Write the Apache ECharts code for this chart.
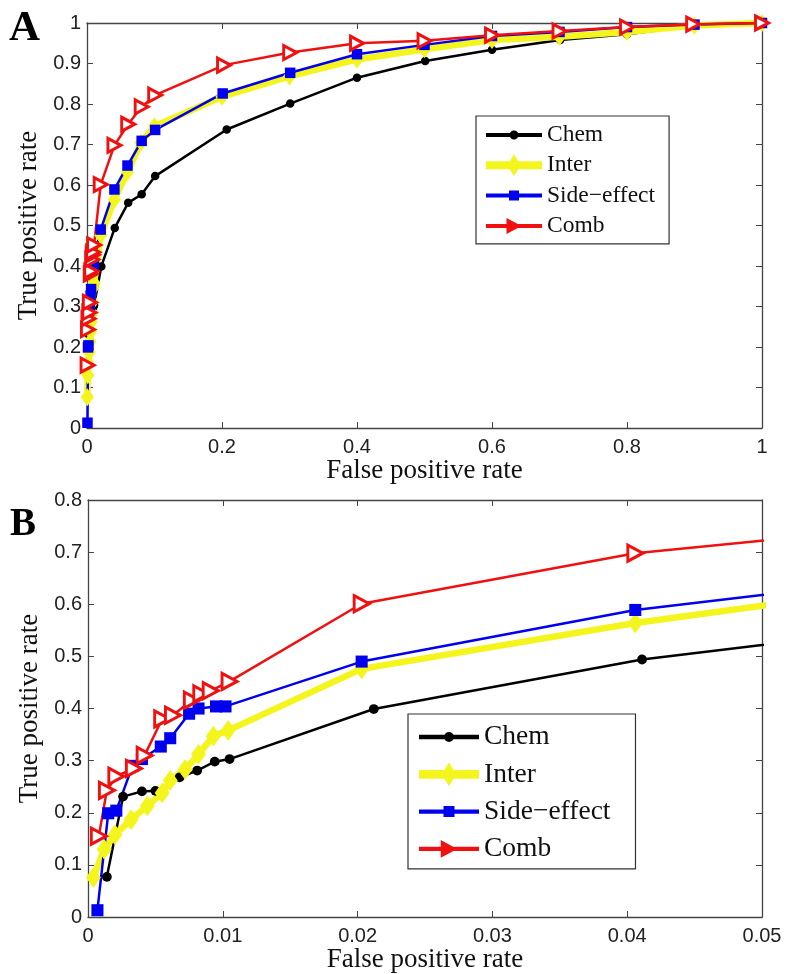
<!DOCTYPE html>
<html>
<head>
<meta charset="utf-8">
<script src="https://cdn.jsdelivr.net/npm/echarts@6/dist/echarts.min.js"></script>
<style>
html,body{margin:0;padding:0;background:#fff;}
#main{width:791px;height:974px;}
</style>
</head>
<body>
<div id="main"></div>
<script>
// [fpr, tpr] points (panel B is a zoom of the same curves)
var chemData = [[0.0014,0.077],[0.0026,0.231],[0.004,0.241],[0.005,0.242],[0.0068,0.268],[0.0081,0.281],[0.0094,0.298],[0.0105,0.303],[0.0212,0.399],[0.0411,0.494],[0.061,0.556],[0.081,0.577],[0.101,0.622],[0.207,0.737],[0.301,0.801],[0.4,0.865],[0.501,0.906],[0.6,0.934],[0.701,0.958],[0.8,0.972],[0.898,0.993],[1,1]];
var interData = [[0.0004,0.076],[0.0012,0.13],[0.002,0.158],[0.0032,0.187],[0.0044,0.213],[0.0055,0.238],[0.0061,0.262],[0.0072,0.283],[0.0082,0.312],[0.0093,0.347],[0.0104,0.358],[0.0203,0.476],[0.0406,0.564],[0.06,0.632],[0.08,0.705],[0.1,0.745],[0.2,0.818],[0.3,0.868],[0.4,0.91],[0.5,0.935],[0.6,0.958],[0.7,0.966],[0.8,0.978],[0.9,0.994],[1,1]];
var sideData = [[0.0007,0.013],[0.0015,0.199],[0.0021,0.204],[0.0033,0.29],[0.004,0.303],[0.0054,0.327],[0.0061,0.343],[0.0075,0.39],[0.0082,0.40],[0.0095,0.404],[0.0102,0.404],[0.0203,0.49],[0.0406,0.589],[0.06,0.648],[0.081,0.709],[0.101,0.736],[0.201,0.826],[0.301,0.877],[0.4,0.923],[0.5,0.946],[0.6,0.968],[0.7,0.978],[0.8,0.99],[0.9,0.996],[1,1]];
var combData = [[0.0008,0.155],[0.0014,0.243],[0.0021,0.27],[0.0034,0.285],[0.0042,0.31],[0.0055,0.38],[0.0063,0.387],[0.0077,0.416],[0.0084,0.428],[0.0091,0.434],[0.0105,0.452],[0.0203,0.601],[0.0406,0.698],[0.061,0.75],[0.081,0.793],[0.101,0.822],[0.203,0.896],[0.301,0.927],[0.4,0.95],[0.5,0.956],[0.6,0.97],[0.7,0.98],[0.8,0.99],[0.898,0.997],[1,1]];
var names = ['Chem', 'Inter', 'Side\u2212effect', 'Comb'];

var triRight = 'path://M0,0L10,5L0,10Z';
var frameColor = '#444';
var colors = ['#000000', '#f5f51e', '#0000f0', '#f01010'];
var tickFont = {fontFamily: 'Liberation Sans', fontSize: 20, color: '#222'};
var titleFont = {fontFamily: 'Liberation Serif', fontSize: 27, color: '#111'};

function fmt(v) {
    return String(Math.round(v * 1000) / 1000);
}
function mainAxis(grid, pos, min, max, step, name, gap) {
    return {
        type: 'value', gridIndex: grid, position: pos, min: min, max: max, interval: step,
        name: name, nameLocation: 'middle', nameGap: gap, nameTextStyle: titleFont,
        axisLine: {show: true, onZero: false, lineStyle: {color: frameColor, width: 1.3}},
        axisTick: {show: true, inside: true, length: 6, lineStyle: {color: frameColor}},
        axisLabel: {show: true, margin: pos == 'left' ? 6 : 9, formatter: fmt, textStyle: tickFont},
        splitLine: {show: false}
    };
}
function sideAxis(grid, pos, min, max, step) {
    return {
        type: 'value', gridIndex: grid, position: pos, min: min, max: max, interval: step,
        axisLine: {show: true, onZero: false, lineStyle: {color: frameColor, width: 1.3}},
        axisTick: {show: true, inside: true, length: 6, lineStyle: {color: frameColor}},
        axisLabel: {show: false},
        splitLine: {show: false}
    };
}
function makeSeries(ax, k) {
    return [
        {name: names[0], type: 'line', xAxisIndex: ax, yAxisIndex: ax, data: chemData,
            symbol: 'circle', symbolSize: 8.5 * k,
            lineStyle: {color: colors[0], width: 2.5}, itemStyle: {color: colors[0]}},
        {name: names[1], type: 'line', xAxisIndex: ax, yAxisIndex: ax, data: interData,
            symbol: 'diamond', symbolSize: [13 * k, 18 * k],
            lineStyle: {color: colors[1], width: 6.5}, itemStyle: {color: colors[1]}},
        {name: names[2], type: 'line', xAxisIndex: ax, yAxisIndex: ax, data: sideData,
            symbol: 'rect', symbolSize: 10.5 * k,
            lineStyle: {color: colors[2], width: 2.5}, itemStyle: {color: colors[2]}},
        {name: names[3], type: 'line', xAxisIndex: ax, yAxisIndex: ax, data: combData,
            symbol: triRight, symbolSize: [13 * k, 14 * k],
            lineStyle: {color: colors[3], width: 2.5},
            itemStyle: {color: '#ffffff', borderColor: colors[3], borderWidth: 3}}
    ];
}

// legend sample: a thick line with the marker in its middle
function legendIcon(kind, w, h, lw, sw, sh) {
    var cx = w / 2, cy = h / 2, t = cy - lw / 2, b = cy + lw / 2;
    var p = 'path://M0,0L0.05,0L0,0.05Z' +
        'M' + w + ',' + h + 'L' + (w - 0.05) + ',' + h + 'L' + w + ',' + (h - 0.05) + 'Z' +
        'M0,' + t + 'L' + w + ',' + t + 'L' + w + ',' + b + 'L0,' + b + 'Z';
    var l = cx - sw / 2, r = cx + sw / 2, u = cy - sh / 2, d = cy + sh / 2;
    if (kind == 'circle') {
        var rr = sw / 2;
        p += 'M' + l + ',' + cy + 'A' + rr + ',' + rr + ' 0 1,1 ' + r + ',' + cy +
             'A' + rr + ',' + rr + ' 0 1,1 ' + l + ',' + cy + 'Z';
    } else if (kind == 'diamond') {
        p += 'M' + cx + ',' + u + 'L' + r + ',' + cy + 'L' + cx + ',' + d + 'L' + l + ',' + cy + 'Z';
    } else if (kind == 'rect') {
        p += 'M' + l + ',' + u + 'L' + r + ',' + u + 'L' + r + ',' + d + 'L' + l + ',' + d + 'Z';
    } else {
        p += 'M' + l + ',' + u + 'L' + r + ',' + cy + 'L' + l + ',' + d + 'Z';
    }
    return p;
}
function makeLegend(left, top, size, w, h, gap, pad, s) {
    return {
        orient: 'vertical', left: left, top: top, itemWidth: w, itemHeight: h, itemGap: gap,
        padding: pad, borderColor: '#333', borderWidth: 1.2, backgroundColor: '#fff',
        textStyle: {fontFamily: 'Liberation Serif', fontSize: size, color: '#111'},
        selectedMode: false,
        data: [
            {name: names[0], icon: legendIcon('circle', w, h, 4 * s, 9 * s, 9 * s)},
            {name: names[1], icon: legendIcon('diamond', w, h, 8 * s, 13 * s, h)},
            {name: names[2], icon: legendIcon('rect', w, h, 4 * s, 10 * s, 10 * s)},
            {name: names[3], icon: legendIcon('tri', w, h, 4 * s, 15 * s, 16 * s),
                itemStyle: {color: colors[3], borderWidth: 0}}
        ]
    };
}

var myChart = echarts.init(document.getElementById('main'));
var option = {
    animation: false,
    backgroundColor: '#fff',
    title: [
        {text: 'A', left: 4, top: 2, textStyle: {fontFamily: 'Liberation Serif', fontWeight: 'bold', fontSize: 43, color: '#000'}},
        {text: 'B', left: 5, top: 500, textStyle: {fontFamily: 'Liberation Serif', fontWeight: 'bold', fontSize: 39, color: '#000'}}
    ],
    grid: [
        {left: 87, top: 23, width: 675, height: 405, outerBoundsMode: 'none'},
        {left: 88, top: 500, width: 674, height: 417, outerBoundsMode: 'none'}
    ],
    legend: [
        makeLegend(476, 116, 23.5, 56, 22, 6.3, [7, 14, 6, 10], 1),
        makeLegend(408, 714, 27.5, 60, 24, 9.3, [9, 25, 6, 11], 1.1)
    ],
    xAxis: [
        mainAxis(0, 'bottom', 0, 1, 0.2, 'False positive rate', 27),
        sideAxis(0, 'top', 0, 1, 0.2),
        mainAxis(1, 'bottom', 0, 0.05, 0.01, 'False positive rate', 28),
        sideAxis(1, 'top', 0, 0.05, 0.01)
    ],
    yAxis: [
        mainAxis(0, 'left', 0, 1, 0.1, 'True positive rate', 37),
        sideAxis(0, 'right', 0, 1, 0.1),
        mainAxis(1, 'left', 0, 0.8, 0.1, 'True positive rate', 37),
        sideAxis(1, 'right', 0, 0.8, 0.1)
    ],
    series: makeSeries(0, 1).concat(makeSeries(2, 1.15))
};
myChart.setOption(option);
</script>
</body>
</html>
